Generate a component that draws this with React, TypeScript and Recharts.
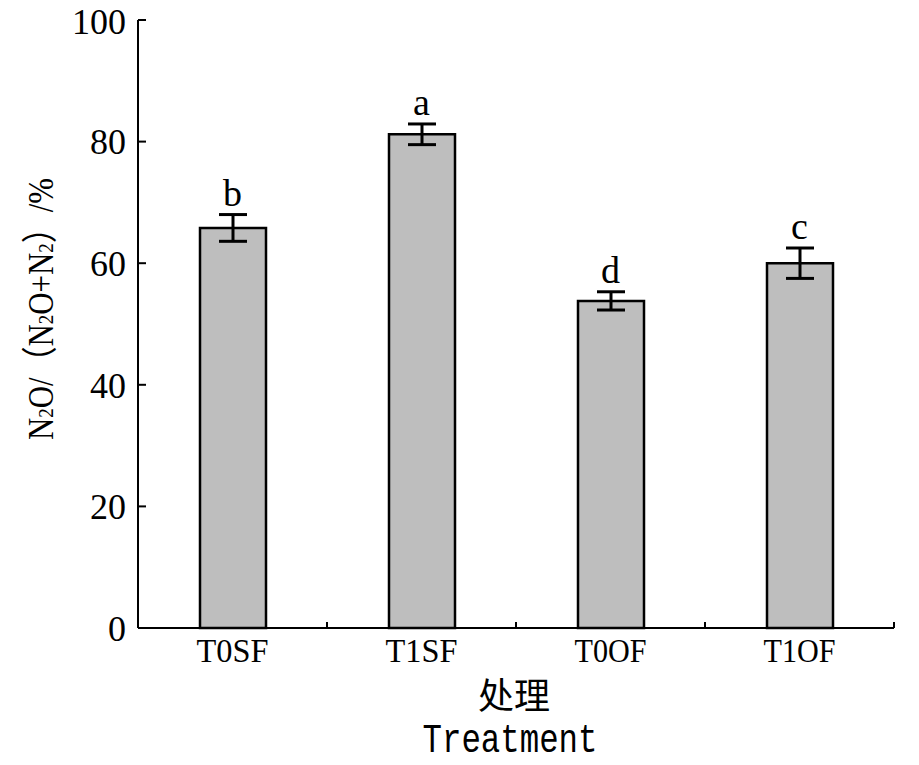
import React from 'react'
import {
  ComposedChart, Bar, Line, XAxis, YAxis, ErrorBar, LabelList, Label,
} from 'recharts'

const TREATMENTS = ['T0SF', 'T1SF', 'T0OF', 'T1OF']
const RATIO = [65.8, 81.2, 53.8, 60.0]
const ERRORS = [2.2, 1.7, 1.5, 2.5]
const LETTERS = ['b', 'a', 'd', 'c']
const Y_TICKS = [0, 20, 40, 60, 80, 100]

const data = TREATMENTS.map((name, i) => ({
  name,
  ratio: RATIO[i],
  err: ERRORS[i],
  top: RATIO[i] + ERRORS[i],
  letter: LETTERS[i],
}))

const SERIF = "'Liberation Serif', 'Times New Roman', serif"

function TreatmentTick(props: any) {
  const { x, y, payload, width, visibleTicksCount } = props
  const half = payload?.offset > 0 ? payload.offset : width / visibleTicksCount / 2
  return (
    <g>
      <line x1={x + half} x2={x + half} y1={y} y2={y - 6} stroke="#000" strokeWidth={2} />
      <text x={x} y={y + 34} textAnchor="middle" fontSize={34} textLength={72} lengthAdjust="spacingAndGlyphs"
        fontFamily={SERIF} fill="#000">
        {payload.value}
      </text>
    </g>
  )
}

function XTitle() {
  return (
    <g>
      <text x={514} y={709} textAnchor="middle" fontSize={36} fontFamily="'Noto Sans CJK SC', sans-serif" fill="#000">
        处理
      </text>
      <text x={510} y={752} textAnchor="middle" fontSize={40} textLength={175} lengthAdjust="spacingAndGlyphs"
        fontFamily="'Liberation Mono', monospace" fill="#000">
        Treatment
      </text>
    </g>
  )
}

function YTitle() {
  const sub = { fontSize: 22 }
  return (
    <text x={53} y={309} transform="rotate(-90, 53, 309)" textAnchor="middle" fontSize={36}
      textLength={262} lengthAdjust="spacingAndGlyphs"
      fontFamily={`${SERIF}, 'Noto Sans CJK SC'`} fill="#000">
      N<tspan {...sub}>2</tspan>O/（N<tspan {...sub}>2</tspan>O+N<tspan {...sub}>2</tspan>）/%
    </text>
  )
}

export default function App() {
  return (
    <div style={{ position: 'absolute', left: 0, top: 0, width: 919, height: 765, background: '#fff' }}>
      <ComposedChart width={919} height={765} data={data} margin={{ top: 20, right: 25, bottom: 0, left: 0 }}>
        <XAxis
          dataKey="name"
          height={137}
          axisLine={{ stroke: '#000', strokeWidth: 2 }}
          tickLine={false}
          tickSize={0}
          tickMargin={0}
          tick={<TreatmentTick />}
          interval={0}
        >
          <Label content={<XTitle />} />
        </XAxis>
        <YAxis
          width={138}
          domain={[0, 100]}
          ticks={Y_TICKS}
          axisLine={{ stroke: '#000', strokeWidth: 2 }}
          tickLine={{ stroke: '#000', strokeWidth: 2 }}
          tickSize={-8}
          tickMargin={20}
          tick={{ fontSize: 36, fontFamily: SERIF, fill: '#000' }}
        >
          <Label content={<YTitle />} />
        </YAxis>
        <Bar dataKey="ratio" fill="#bebebe" stroke="#000" strokeWidth={2.5} barSize={66} isAnimationActive={false}>
          <ErrorBar dataKey="err" width={14} stroke="#000" strokeWidth={3} />
        </Bar>
        <Line
          dataKey="top"
          stroke="none"
          dot={false}
          activeDot={false}
          legendType="none"
          isAnimationActive={false}
        >
          <LabelList dataKey="letter" position="top" offset={9} fontSize={38} fontFamily={SERIF} fill="#000" />
        </Line>
      </ComposedChart>
    </div>
  )
}
